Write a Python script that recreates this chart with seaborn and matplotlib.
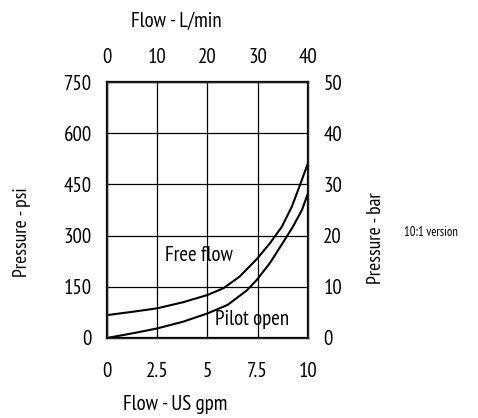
import pandas as pd
import matplotlib
matplotlib.use("Agg")
import matplotlib.pyplot as plt
import seaborn as sns

# Curve values (flow in US gpm, pressure in psi)
free_flow_gpm = [0, 1.3, 2.5, 3.8, 5, 5.8, 6.6, 7.45, 8.1, 8.7, 9.2, 9.6, 10]
free_flow_psi = [67, 77, 87, 105, 126, 146, 180, 231, 277, 326, 385, 448, 512]
pilot_open_gpm = [0, 1.3, 2.5, 3.8, 5, 6, 6.95, 7.45, 8.1, 8.75, 9.25, 9.7, 10]
pilot_open_psi = [0, 14, 28, 48, 72, 97, 139, 170, 219, 279, 326, 375, 424]

gpm_ticks = [0, 2.5, 5, 7.5, 10]
gpm_labels = ["0", "2.5", "5", "7.5", "10"]
lpm_labels = ["0", "10", "20", "30", "40"]
psi_ticks = [0, 150, 300, 450, 600, 750]
bar_labels = ["0", "10", "20", "30", "40", "50"]

sns.set_style("white")
plt.rcParams['font.family'] = ['PT Sans Narrow', 'DejaVu Sans']
plt.rcParams['text.color'] = 'black'
plt.rcParams['xtick.color'] = 'black'
plt.rcParams['ytick.color'] = 'black'

df = pd.concat([
    pd.DataFrame({'gpm': free_flow_gpm, 'psi': free_flow_psi, 'curve': 'Free flow'}),
    pd.DataFrame({'gpm': pilot_open_gpm, 'psi': pilot_open_psi, 'curve': 'Pilot open'}),
])

fig = plt.figure(figsize=(4.78, 4.18), dpi=100)
ax = fig.add_axes([0.2238, 0.1914, 0.4205, 0.6124])

sns.lineplot(data=df, x='gpm', y='psi', units='curve', estimator=None,
             color='black', linewidth=1.5, ax=ax)

ax.set_xlim(0, 10)
ax.set_ylim(0, 750)
ax.set_xticks(gpm_ticks)
ax.set_xticklabels(gpm_labels)
ax.set_yticks(psi_ticks)
ax.grid(True, color='black', linewidth=0.9)
ax.tick_params(axis='x', length=0, labelsize=15, pad=17)
ax.tick_params(axis='y', length=0, labelsize=15, pad=11)
ax.set_xlabel("")
ax.set_ylabel("")
for s in ax.spines.values():
    s.set_color('black')
    s.set_linewidth(1.6)

ax.text(4.6, 243, "Free flow", fontsize=15, ha='center', va='center')
ax.text(7.2, 53, "Pilot open", fontsize=15, ha='center', va='center')

# top axis in L/min
axt = ax.twiny()
axt.set_xlim(0, 10)
axt.set_xticks(gpm_ticks)
axt.set_xticklabels(lpm_labels)
axt.tick_params(length=0, labelsize=15, pad=11)

# right axis in bar
axr = ax.twinx()
axr.set_ylim(0, 750)
axr.set_yticks(psi_ticks)
axr.set_yticklabels(bar_labels)
axr.tick_params(length=0, labelsize=15, pad=11)

# axis titles placed like the reference
fig.text(176 / 478, 1 - 21 / 418, "Flow - L/min", fontsize=15, ha='center', va='center')
fig.text(175 / 478, 1 - 404 / 418, "Flow - US gpm", fontsize=15, ha='center', va='center')
fig.text(22 / 478, 1 - 232 / 418, "Pressure - psi", fontsize=14, ha='center', va='center', rotation=90)
fig.text(376 / 478, 1 - 238 / 418, "Pressure - bar", fontsize=14, ha='center', va='center', rotation=90)
fig.text(431 / 478, 1 - 233 / 418, "10:1 version", fontsize=9, ha='center', va='center')

fig.savefig("out.png", dpi=100)
